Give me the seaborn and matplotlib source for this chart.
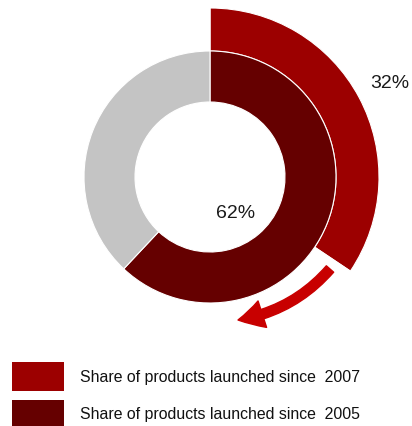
import matplotlib
matplotlib.use("Agg")
import matplotlib.pyplot as plt
import matplotlib.patches as mpatches
import seaborn as sns

sns.set_theme(style="white")
plt.rcParams['font.family'] = ['Liberation Sans', 'DejaVu Sans']

# Data (drawn shares; labels as printed)
outer_values = [34.4, 65.6]      # share launched since 2007 (rest empty)
inner_values = [62, 38]          # share launched since 2005 (rest grey)
value_labels = ["32%", "62%"]
legend_labels = ["Share of products launched since  2007",
                 "Share of products launched since  2005"]
outer_colors = ["#9C0000", "none"]
inner_colors = ["#650000", "#C4C4C4"]
arrow_color = "#C80000"

W, H = 412, 427
fig = plt.figure(figsize=(W / 100, H / 100), dpi=100)
ax = fig.add_axes([0, 0, 1, 1])

cx, cy = 210, H - 178
r_out, w_out = 169, 43
r_in, w_in = 126, 51

ax.pie(outer_values, colors=outer_colors, radius=r_out, center=(cx, cy),
       startangle=90, counterclock=False,
       wedgeprops=dict(width=w_out, edgecolor="white", linewidth=0.8))
ax.pie(inner_values, colors=inner_colors, radius=r_in, center=(cx, cy),
       startangle=90, counterclock=False,
       wedgeprops=dict(width=w_in, edgecolor="white", linewidth=0.8))
ax.set_xlim(0, W)
ax.set_ylim(0, H)
ax.set_aspect('equal')
ax.axis('off')

ax.text(390, H - 83, value_labels[0], fontsize=14, ha="center",
        va="center", color="#1a1a1a")
ax.text(236, H - 214, value_labels[1], fontsize=14, ha="center",
        va="center", color="#1a1a1a")

ax.annotate("", xy=(238, H - 321), xytext=(330, H - 270),
            arrowprops=dict(arrowstyle="simple,head_width=2.0,head_length=1.8,tail_width=0.7",
                            connectionstyle="arc3,rad=-0.18", color=arrow_color,
                            shrinkA=0, shrinkB=0, mutation_scale=10))

# Legend
sq_x, sq_w, sq_h = 12, 52, 29
sq_tops = [363, 401]
text_ys = [378, 415]
legend_colors = [outer_colors[0], inner_colors[0]]
for top, ty, col, lab in zip(sq_tops, text_ys, legend_colors, legend_labels):
    ax.add_patch(mpatches.Rectangle((sq_x, H - top - sq_h), sq_w, sq_h,
                                    facecolor=col, edgecolor="none",
                                    clip_on=False))
    ax.text(80, H - ty, lab, fontsize=11.4, ha="left", va="center",
            color="#111111")

fig.savefig("out.png", dpi=100)
